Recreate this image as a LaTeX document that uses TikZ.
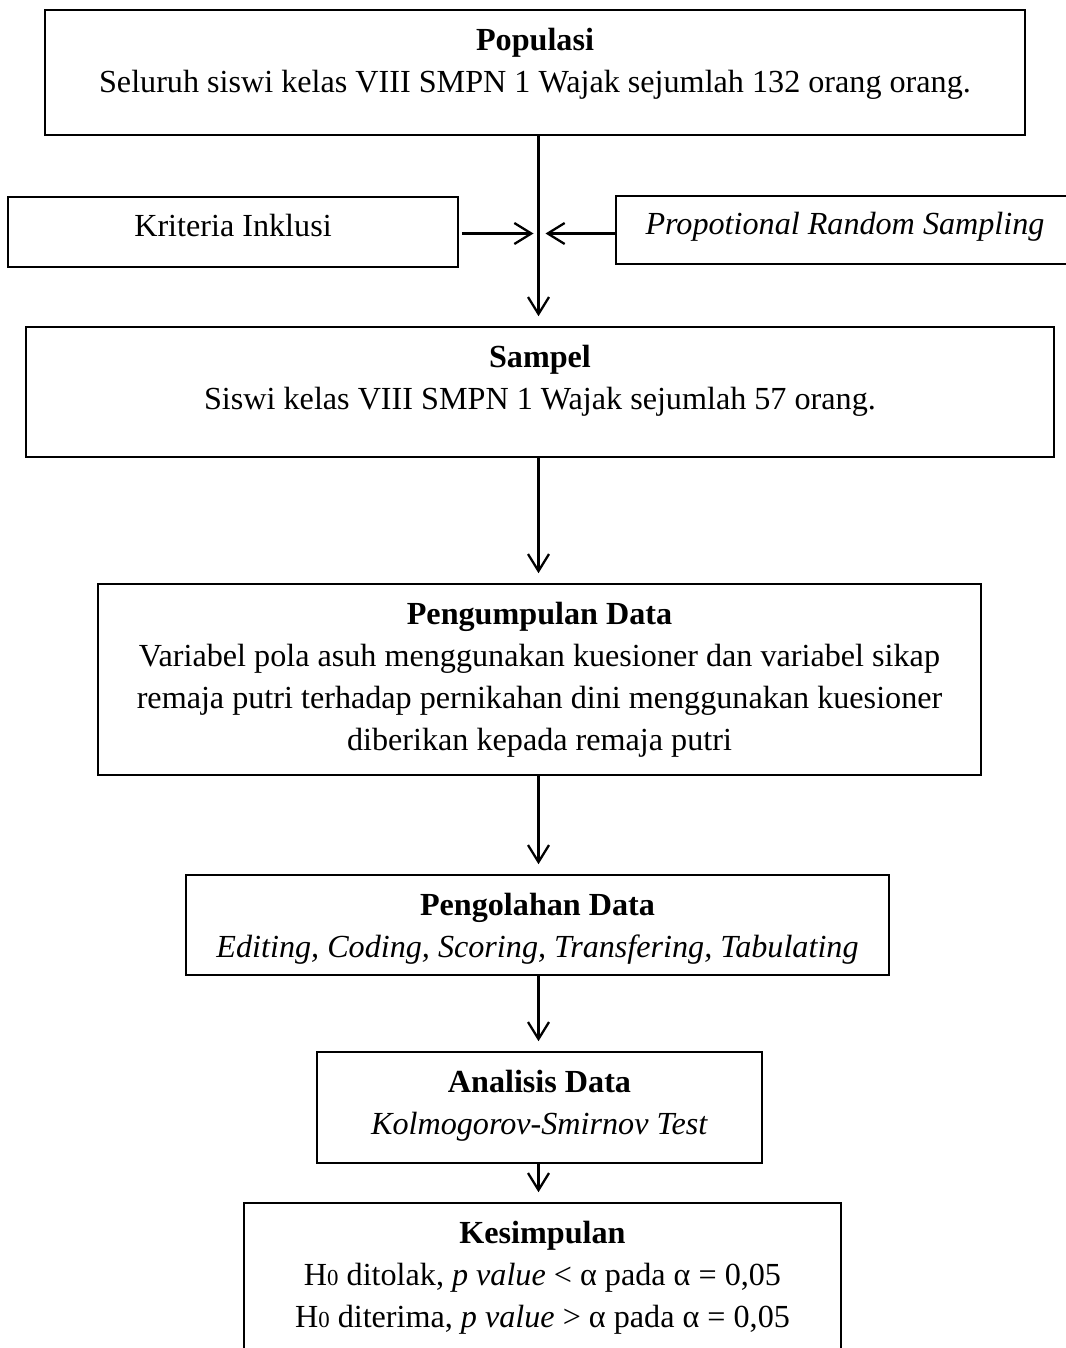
\documentclass[tikz,border=0pt]{standalone}
\usepackage{fontspec}
\setmainfont{Liberation Serif}
\usetikzlibrary{arrows.meta,positioning}

\tikzset{
  kotak/.style={draw,line width=0.9pt,inner sep=0pt},
  isi/.style={align=center,inner sep=0pt},
  sebaris/.style={text height=0.45cm,text depth=0.29cm},
  panah/.style={-{Straight Barb[length=3.4mm,width=4.2mm]},line width=1.3pt,shorten >=0.2cm},
}

\newcommand{\Hnol}{H{\fontsize{13}{13}\selectfont 0}}

\begin{document}
\begin{tikzpicture}[font=\fontsize{18.3}{23.8}\selectfont]

\useasboundingbox (0,0) rectangle (21.3,-26.96);

\coordinate (tengah) at (10.77,-4.67);

% kotak
\node[kotak,minimum width=19.6cm,minimum height=2.5cm] (pop) at (10.70,-1.45) {};
\node[kotak,sebaris,minimum width=9cm,minimum height=1.4cm] (krit) at (4.66,-4.64) {Kriteria Inklusi};
\node[kotak,sebaris,minimum width=9.16cm,minimum height=1.36cm] (prop) at (16.9,-4.6) {\textit{Propotional Random Sampling}};
\node[kotak,minimum width=20.56cm,minimum height=2.6cm] (samp) at (10.8,-7.84) {};
\node[kotak,minimum width=17.66cm,minimum height=3.82cm] (peng) at (10.79,-13.59) {};
\node[kotak,minimum width=14.06cm,minimum height=2cm] (olah) at (10.75,-18.5) {};
\node[kotak,minimum width=8.9cm,minimum height=2.22cm] (anal) at (10.79,-22.15) {};
\node[kotak,minimum width=11.94cm,minimum height=3.4cm] (kes) at (10.85,-25.76) {};

% isi kotak
\node[isi,below=0.38cm of pop.north] (popisi) {\textbf{Populasi}\\Seluruh siswi kelas VIII SMPN 1 Wajak sejumlah 132 orang orang.};
\node[isi,below=0.38cm of samp.north] (sampisi) {\textbf{Sampel}\\Siswi kelas VIII SMPN 1 Wajak sejumlah 57 orang.};
\node[isi,below=0.38cm of peng.north] (pengisi) {\textbf{Pengumpulan Data}\\Variabel pola asuh menggunakan kuesioner dan variabel sikap\\remaja putri terhadap pernikahan dini menggunakan kuesioner\\diberikan kepada remaja putri};
\node[isi,below=0.38cm of olah.north] (olahisi) {\textbf{Pengolahan Data}\\\textit{Editing, Coding, Scoring, Transfering, Tabulating}};
\node[isi,below=0.38cm of anal.north] (analisi) {\textbf{Analisis Data}\\\textit{Kolmogorov-Smirnov Test}};
\node[isi,below=0.38cm of kes.north] (kesisi) {\textbf{Kesimpulan}\\\Hnol{} ditolak, \textit{p value} < α pada α = 0,05\\\Hnol{} diterima, \textit{p value} > α pada α = 0,05};

% panah
\draw[panah] (pop.south -| tengah) -- (samp.north -| tengah);
\draw[panah,shorten >=0.1cm,shorten <=0.06cm] (krit.east |- tengah) -- (tengah);
\draw[panah,shorten >=0.14cm] (prop.west |- tengah) -- (tengah);
\draw[panah] (samp.south -| tengah) -- (peng.north -| tengah);
\draw[panah] (peng.south -| tengah) -- (olah.north -| tengah);
\draw[panah] (olah.south -| tengah) -- (anal.north -| tengah);
\draw[panah] (anal.south -| tengah) -- (kes.north -| tengah);

\end{tikzpicture}
\end{document}
